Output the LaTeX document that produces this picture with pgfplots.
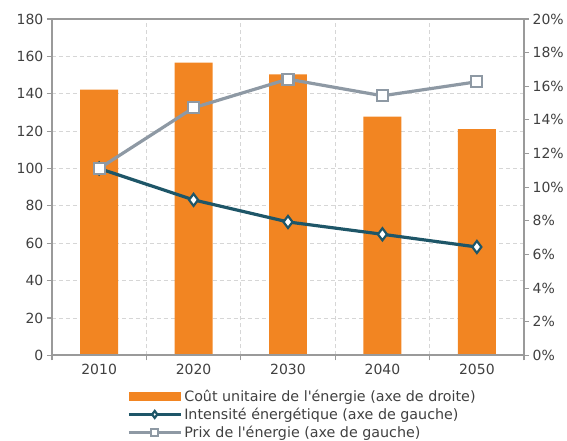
\documentclass[border=0pt]{standalone}
\usepackage{pgfplots}
\pgfplotsset{compat=1.18}
\usepackage{fontspec}
\setmainfont{DejaVu Sans}
\newfontfamily\plainf{DejaVu Sans}
\definecolor{barorange}{HTML}{F28522}
\definecolor{teal}{HTML}{1E5668}
\definecolor{lgray}{HTML}{8E99A4}
\definecolor{axgray}{HTML}{9A9A9A}
\definecolor{gridgray}{HTML}{D6D6D6}
\definecolor{txt}{HTML}{404040}
\pgfplotsset{mylegend/.style={legend image code/.code={\draw[##1,mark repeat=2,mark phase=2,mark size=3.5pt] plot coordinates {(0pt,0pt) (26pt,0pt) (52pt,0pt)};}}}
\pgfplotsset{barlegend/.style={legend image code/.code={\fill[barorange] (0pt,-4pt) rectangle (52pt,4pt);}}}
\begin{document}
\begin{tikzpicture}
\pgfplotsset{common/.style={
  scale only axis, width=473pt, height=337pt,
  at={(0pt,0pt)}, anchor=south west,
  xmin=-0.5, xmax=4.5,
  /pgf/number format/assume math mode=true,
  ticklabel style={font=\fontsize{14}{16}\selectfont, text=txt},
  tick align=outside,
  major tick length=5pt, minor tick length=5pt,
  every tick/.style={axgray, line width=1.2pt},
  axis line style={axgray, line width=1.8pt},
}}
% grid layer
\begin{axis}[common,
  ymin=0, ymax=180, ytick={0,20,...,180}, yticklabels={},
  xtick={0.5,1.5,2.5,3.5}, xticklabels={},
  ymajorgrids, xmajorgrids,
  grid style={gridgray, line width=0.8pt, dash pattern=on 4pt off 3pt},
  axis line style={draw=none}, major tick length=0pt]
\addplot[draw=none] coordinates {(0,0)};
\end{axis}
% bars, right axis
\begin{axis}[common,
  axis y line*=right, axis x line=none,
  ymin=0, ymax=20, ytick={0,2,...,20},
  yticklabel={\pgfmathprintnumber{\tick}\%},
  ]
\addplot[ybar, bar width=38pt, fill=barorange, draw=none] coordinates {
 (0,15.8) (1,17.4) (2,16.7) (3,14.2) (4,13.45)};
\end{axis}
% lines, left axis
\begin{axis}[common,
  ymin=0, ymax=180, ytick={0,20,...,180}, ytick pos=left,
  xtick={0,1,2,3,4}, xticklabels={2010,2020,2030,2040,2050},
  major x tick style={draw=none},
  minor xtick={-0.5,0.5,1.5,2.5,3.5,4.5}, xtick pos=bottom,
  legend style={at={(0.159,-0.096)}, anchor=north west, draw=none, fill=none,
    font=\plainf\fontsize{14.3}{17}\selectfont, text=txt, inner sep=0pt, row sep=1.2pt,
    cells={anchor=west}},
  legend cell align=left,
  ]
\addlegendimage{barlegend}
\addlegendentry{Coût unitaire de l'énergie (axe de droite)}
\addplot[teal, line width=3.2pt, mark=diamond*, mark size=6pt,
  mark options={fill=white, draw=teal, line width=2.2pt}, mylegend]
  coordinates {(0,100) (1,83.2) (2,71.4) (3,64.8) (4,58.0)};
\addlegendentry{Intensité énergétique (axe de gauche)}
\addplot[lgray, line width=3.2pt, mark=square*, mark size=5.5pt,
  mark options={fill=white, draw=lgray, line width=2.2pt}, mylegend]
  coordinates {(0,100) (1,132.5) (2,147.8) (3,138.9) (4,146.4)};
\addlegendentry{Prix de l'énergie (axe de gauche)}
\end{axis}
\useasboundingbox (-52pt,-81pt) rectangle (515pt,356pt);
\end{tikzpicture}
\end{document}
